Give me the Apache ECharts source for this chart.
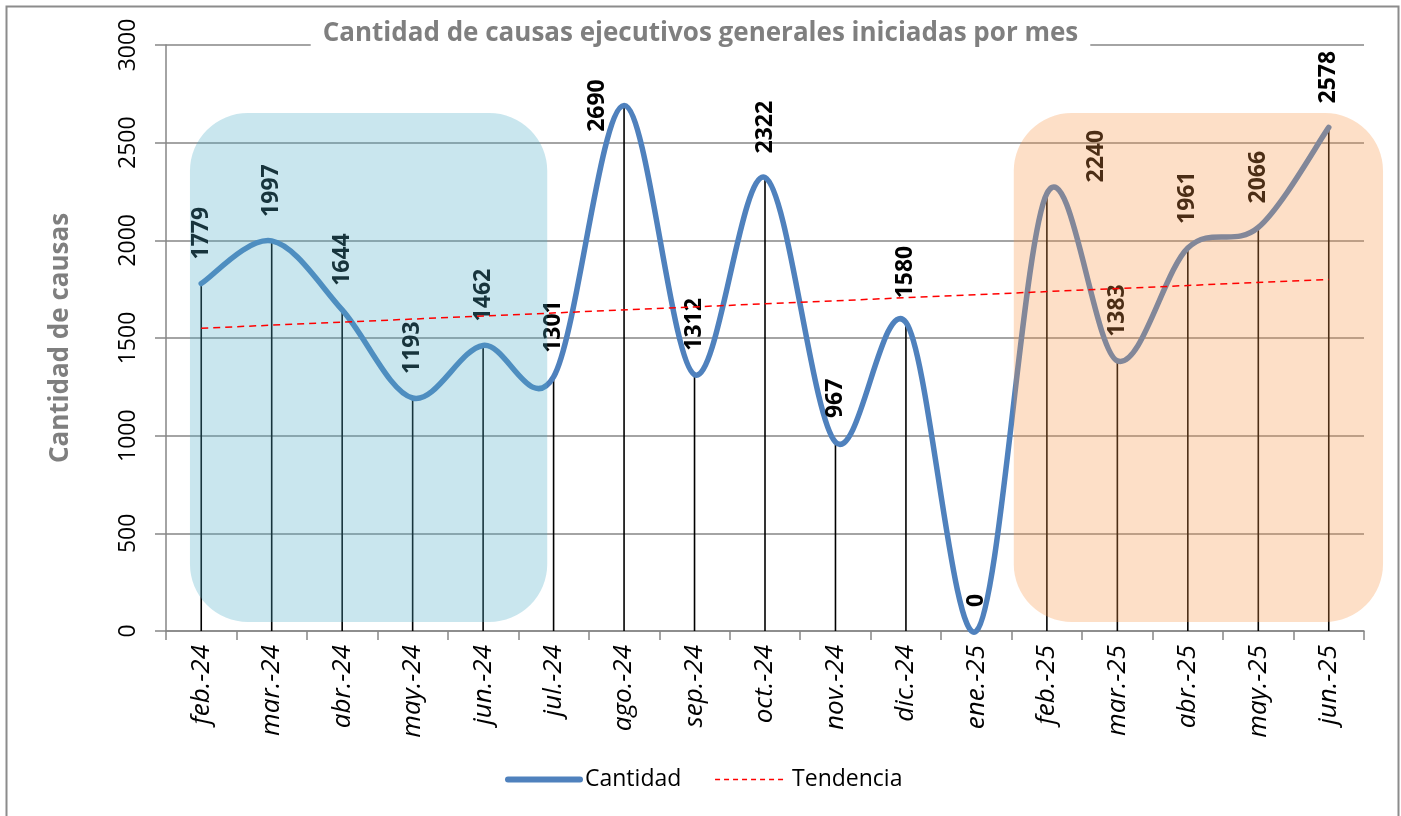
<!DOCTYPE html>
<html>
<head>
<meta charset="utf-8">
<script src="https://cdn.jsdelivr.net/npm/echarts@6/dist/echarts.min.js"></script>
<style>html,body{margin:0;padding:0;background:#fff}#c{width:1401px;height:816px}</style>
</head>
<body>
<div id="c"></div>
<script>
// ---- data ----
const categories = ['feb.-24','mar.-24','abr.-24','may.-24','jun.-24','jul.-24','ago.-24','sep.-24','oct.-24','nov.-24','dic.-24','ene.-25','feb.-25','mar.-25','abr.-25','may.-25','jun.-25'];
const cantidad = [1779,1997,1644,1193,1462,1301,2690,1312,2322,967,1580,0,2240,1383,1961,2066,2578];
const tendencia = [1550,null,null,null,null,null,null,null,null,null,null,null,null,null,null,null,1800];
const yMin = 0, yMax = 3000, yStep = 500;

// ---- layout / style config (not data) ----
const highlightBoxes = [
  {from: -0.16, to: 4.91, low: 46, high: 2652, color: 'rgba(75,172,198,0.3)'},
  {from: 11.53, to: 16.77, low: 46, high: 2652, color: 'rgba(247,150,70,0.3)'}
];
// offsets are in the rotated text frame: [along text (up), across text (right)]
const labelTweaks = {
  6: {position: 'left', distance: 26, align: 'center', verticalAlign: 'middle'},
  12: {distance: 10, offset: [0, 50]}
};
const FONT = "'Open Sans', 'Noto Sans', sans-serif";
const LINE_BLUE = '#4f81bd';

const chart = echarts.init(document.getElementById('c'), null, {renderer: 'canvas'});
chart.setOption({
  animation: false,
  backgroundColor: '#fff',
  title: {
    text: 'Cantidad de causas ejecutivos generales iniciadas por mes',
    left: 'center', top: 19,
    padding: [2, 12, 4, 12],
    backgroundColor: '#fff',
    textStyle: {fontFamily: FONT, fontWeight: 'bold', fontSize: 26, color: '#7f7f7f'}
  },
  legend: {
    left: 505, top: 768, itemGap: 33, itemWidth: 72, itemHeight: 14, padding: 0,
    textStyle: {fontFamily: FONT, fontSize: 23, color: '#000'},
    data: [
      {name: 'Cantidad', itemStyle: {opacity: 0}, lineStyle: {width: 6, color: LINE_BLUE, opacity: 1, cap: 'round'}},
      {name: 'Tendencia', itemStyle: {opacity: 0}, lineStyle: {width: 1.5, color: '#ff0000', opacity: 1, type: [5, 4]}}
    ]
  },
  grid: {left: 166, right: 37, top: 45, bottom: 185, containLabel: false},
  xAxis: {
    type: 'category', data: categories, boundaryGap: true,
    axisLine: {lineStyle: {color: '#868686', width: 1.5}},
    axisTick: {show: true, length: 9, lineStyle: {color: '#868686', width: 1.5}},
    axisLabel: {rotate: 90, margin: 14, fontFamily: FONT, fontStyle: 'italic', fontSize: 26, color: '#000', interval: 0}
  },
  yAxis: {
    type: 'value', min: yMin, max: yMax, interval: yStep,
    name: 'Cantidad de causas', nameLocation: 'middle', nameGap: 92, nameRotate: 90,
    nameTextStyle: {fontFamily: FONT, fontWeight: 'bold', fontSize: 26, color: '#7f7f7f'},
    axisLine: {show: true, lineStyle: {color: '#868686', width: 1.5}},
    axisTick: {show: true, length: 11, lineStyle: {color: '#868686', width: 1.5}},
    axisLabel: {rotate: 90, margin: 26, fontFamily: FONT, fontSize: 23, color: '#000', formatter: v => String(v)},
    splitLine: {show: true, lineStyle: {color: '#868686', width: 1.6}}
  },
  series: [
    {
      name: 'drop', type: 'bar', data: cantidad, barWidth: 1.6, z: 1,
      itemStyle: {color: '#000'}, silent: true, legendHoverLink: false
    },
    {
      // smooth curve (Catmull-Rom style, like the spreadsheet's smoothed line)
      name: 'curve', type: 'custom', z: 2, silent: true,
      data: [[0, 0]],
      renderItem: function (params, api) {
        const pts = cantidad.map((v, i) => api.coord([i, v]));
        const n = pts.length;
        let d = 'M' + pts[0][0] + ',' + pts[0][1];
        for (let i = 0; i < n - 1; i++) {
          const p0 = pts[Math.max(0, i - 1)], p1 = pts[i], p2 = pts[i + 1], p3 = pts[Math.min(n - 1, i + 2)];
          const c1x = p1[0] + (p2[0] - p0[0]) / 6, c1y = p1[1] + (p2[1] - p0[1]) / 6;
          const c2x = p2[0] - (p3[0] - p1[0]) / 6, c2y = p2[1] - (p3[1] - p1[1]) / 6;
          d += ' C' + c1x + ',' + c1y + ' ' + c2x + ',' + c2y + ' ' + p2[0] + ',' + p2[1];
        }
        return {type: 'path', shape: {pathData: d}, style: {fill: 'none', stroke: LINE_BLUE, lineWidth: 5.5, lineCap: 'round', lineJoin: 'round'}};
      }
    },
    {
      name: 'Cantidad', type: 'line', z: 2, symbol: 'circle', symbolSize: 2,
      lineStyle: {color: LINE_BLUE, width: 5.5, opacity: 0},
      itemStyle: {color: 'rgba(0,0,0,0)'},
      label: {show: true, position: 'top', distance: 23, rotate: 90, align: 'left', verticalAlign: 'middle',
              fontFamily: FONT, fontWeight: 'bold', fontSize: 23, color: '#000'},
      data: cantidad.map((v, i) => labelTweaks[i] ? {value: v, label: labelTweaks[i]} : v)
    },
    {
      name: 'boxes', type: 'custom', z: 3, silent: true,
      data: highlightBoxes.map(() => [0, 0]),
      renderItem: function (params, api) {
        const b = highlightBoxes[params.dataIndex];
        const p0 = api.coord([0, b.high]);
        const p1 = api.coord([1, b.low]);
        const step = p1[0] - p0[0];
        const x0 = p0[0] + b.from * step, x1 = p0[0] + b.to * step;
        return {type: 'rect', shape: {x: x0, y: p0[1], width: x1 - x0, height: p1[1] - p0[1], r: 58},
                style: {fill: b.color}};
      }
    },
    {
      name: 'Tendencia', type: 'line', z: 4, symbol: 'none', connectNulls: true,
      lineStyle: {color: '#ff0000', width: 1.5, type: [7, 5]},
      itemStyle: {color: '#ff0000'},
      data: tendencia
    }
  ],
  graphic: [
    {type: 'rect', left: 4, top: 4, shape: {width: 1392, height: 830}, style: {fill: 'none', stroke: '#8c8c8c', lineWidth: 2}, z: 100, silent: true}
  ]
});
</script>
</body>
</html>
